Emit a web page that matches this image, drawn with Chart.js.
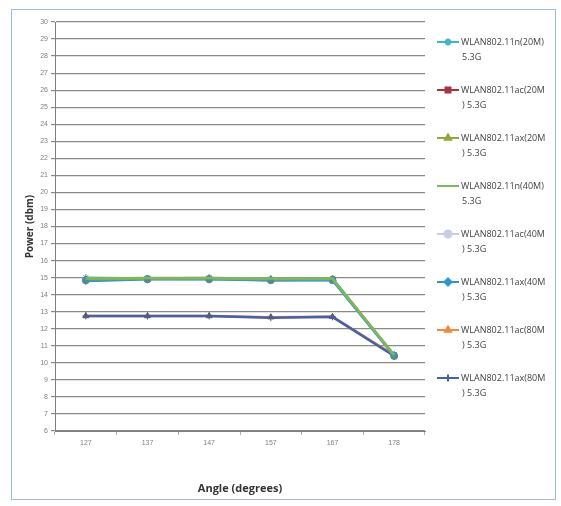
<!DOCTYPE html>
<html>
<head>
<meta charset="utf-8">
<script src="https://cdn.jsdelivr.net/npm/chart.js@4"></script>
<style>
  html, body { margin: 0; padding: 0; background: #fff; }
  #box {
    position: absolute; left: 11px; top: 9px;
    width: 543px; height: 489px;
    border: 1px solid #9dbde6;
    background: #fff;
  }
  #box canvas { display: block; }
</style>
</head>
<body>
<div id="box"><canvas id="chart" width="543" height="489"></canvas></div>
<script>
/* ===== DATA ===== */
const angles = ['127', '137', '147', '157', '167', '178'];

const seriesNames = [
  ['WLAN802.11n(20M)', '5.3G'],
  ['WLAN802.11ac(20M', ') 5.3G'],
  ['WLAN802.11ax(20M', ') 5.3G'],
  ['WLAN802.11n(40M)', '5.3G'],
  ['WLAN802.11ac(40M', ') 5.3G'],
  ['WLAN802.11ax(40M', ') 5.3G'],
  ['WLAN802.11ac(80M', ') 5.3G'],
  ['WLAN802.11ax(80M', ') 5.3G']
];

const n20  = [15.0, 14.95, 14.95, 14.9, 14.9, 10.45];
const ac20 = [14.85, 14.95, 14.95, 14.85, 14.9, 10.45];
const ax20 = [14.9, 14.95, 14.98, 14.92, 14.95, 10.45];
const n40  = [14.95, 14.98, 14.98, 14.95, 14.95, 10.45];
const ac40 = [14.85, 14.9, 14.9, 14.85, 14.85, 10.4];
const ax40 = [14.8, 14.9, 14.9, 14.85, 14.85, 10.4];
const ac80 = [12.75, 12.75, 12.75, 12.68, 12.7, 10.45];
const ax80 = [12.75, 12.75, 12.75, 12.65, 12.7, 10.4];

const yTicks = { min: 6, max: 30, step: 1 };

/* ===== STYLES ===== */
const colors  = ['#3fb6cf', '#a8323f', '#93a83a', '#7fb85a', '#c9cde3', '#2f93d4', '#f08a3c', '#4660b0'];
const markers = ['star', 'rect', 'triangle', false, 'circle', 'rectRot', 'triangle', 'cross'];
const drawOrder = [3, 6, 2, 1, 5, 4, 9, 8]; // lower = drawn on top

const allValues = [n20, ac20, ax20, n40, ac40, ax40, ac80, ax80];

const datasets = allValues.map((vals, i) => ({
  label: seriesNames[i].join(''),
  data: vals,
  borderColor: colors[i],
  backgroundColor: colors[i],
  borderWidth: 2.5,
  pointStyle: markers[i] || 'circle',
  pointRadius: markers[i] ? 3.5 : 0,
  pointBorderColor: i >= 6 ? '#555a70' : '#4f8e98',
  pointBackgroundColor: i >= 6 ? '#555a70' : '#4f8e98',
  pointBorderWidth: 1,
  order: drawOrder[i],
  tension: 0
}));

// Excel style legend: line + marker + two line label
const sideLegend = {
  id: 'sideLegend',
  afterDraw(chart) {
    const ctx = chart.ctx;
    const x0 = 425, x1 = 447, tx = 449;
    ctx.save();
    seriesNames.forEach((lines, i) => {
      const y = 32 + i * 48;
      ctx.strokeStyle = colors[i];
      ctx.lineWidth = 2;
      ctx.beginPath();
      ctx.moveTo(x0, y);
      ctx.lineTo(x1, y);
      ctx.stroke();
      if (markers[i]) {
        ctx.fillStyle = colors[i];
        ctx.strokeStyle = colors[i];
        Chart.helpers.drawPoint(ctx, {
          pointStyle: markers[i], radius: 3.5, borderWidth: 1.5, rotation: 0
        }, (x0 + x1) / 2, y);
      }
      ctx.fillStyle = '#3f3f3f';
      ctx.font = '9px "Open Sans"';
      ctx.textBaseline = 'middle';
      ctx.textAlign = 'left';
      ctx.fillText(lines[0], tx, y);
      ctx.fillText(lines[1], tx + 1, y + 15);
    });
    ctx.restore();
  }
};

new Chart(document.getElementById('chart'), {
  type: 'line',
  data: { labels: angles, datasets },
  options: {
    responsive: false,
    animation: false,
    layout: { padding: { left: 8, top: 12, right: 130, bottom: 0 } },
    plugins: {
      legend: { display: false },
      tooltip: { enabled: false }
    },
    scales: {
      x: {
        offset: true,
        grid: {
          offset: true,
          drawOnChartArea: false,
          drawTicks: true,
          tickLength: 4,
          color: '#b0b0b0'
        },
        border: { color: '#7f7f7f' },
        ticks: {
          color: '#7f7f7f',
          font: { family: 'Liberation Sans', size: 7 },
          padding: 4
        },
        title: {
          display: true,
          text: 'Angle (degrees)',
          color: '#333',
          font: { family: 'Open Sans', size: 11, weight: 'bold' },
          padding: { top: 17 }
        },
        afterFit(s) { s.height = 68; }
      },
      y: {
        min: yTicks.min,
        max: yTicks.max,
        ticks: {
          stepSize: yTicks.step,
          color: '#7f7f7f',
          font: { family: 'Liberation Sans', size: 7 },
          padding: 3
        },
        grid: {
          color: '#8a8a8a',
          lineWidth: 1.2,
          tickLength: 4
        },
        border: { color: '#7f7f7f' },
        title: {
          display: true,
          text: 'Power (dbm)',
          color: '#333',
          font: { family: 'Open Sans', size: 10, weight: 'bold' },
          padding: { bottom: 4 }
        },
        afterFit(s) { s.width = 35; }
      }
    }
  },
  plugins: [sideLegend]
});
</script>
</body>
</html>
